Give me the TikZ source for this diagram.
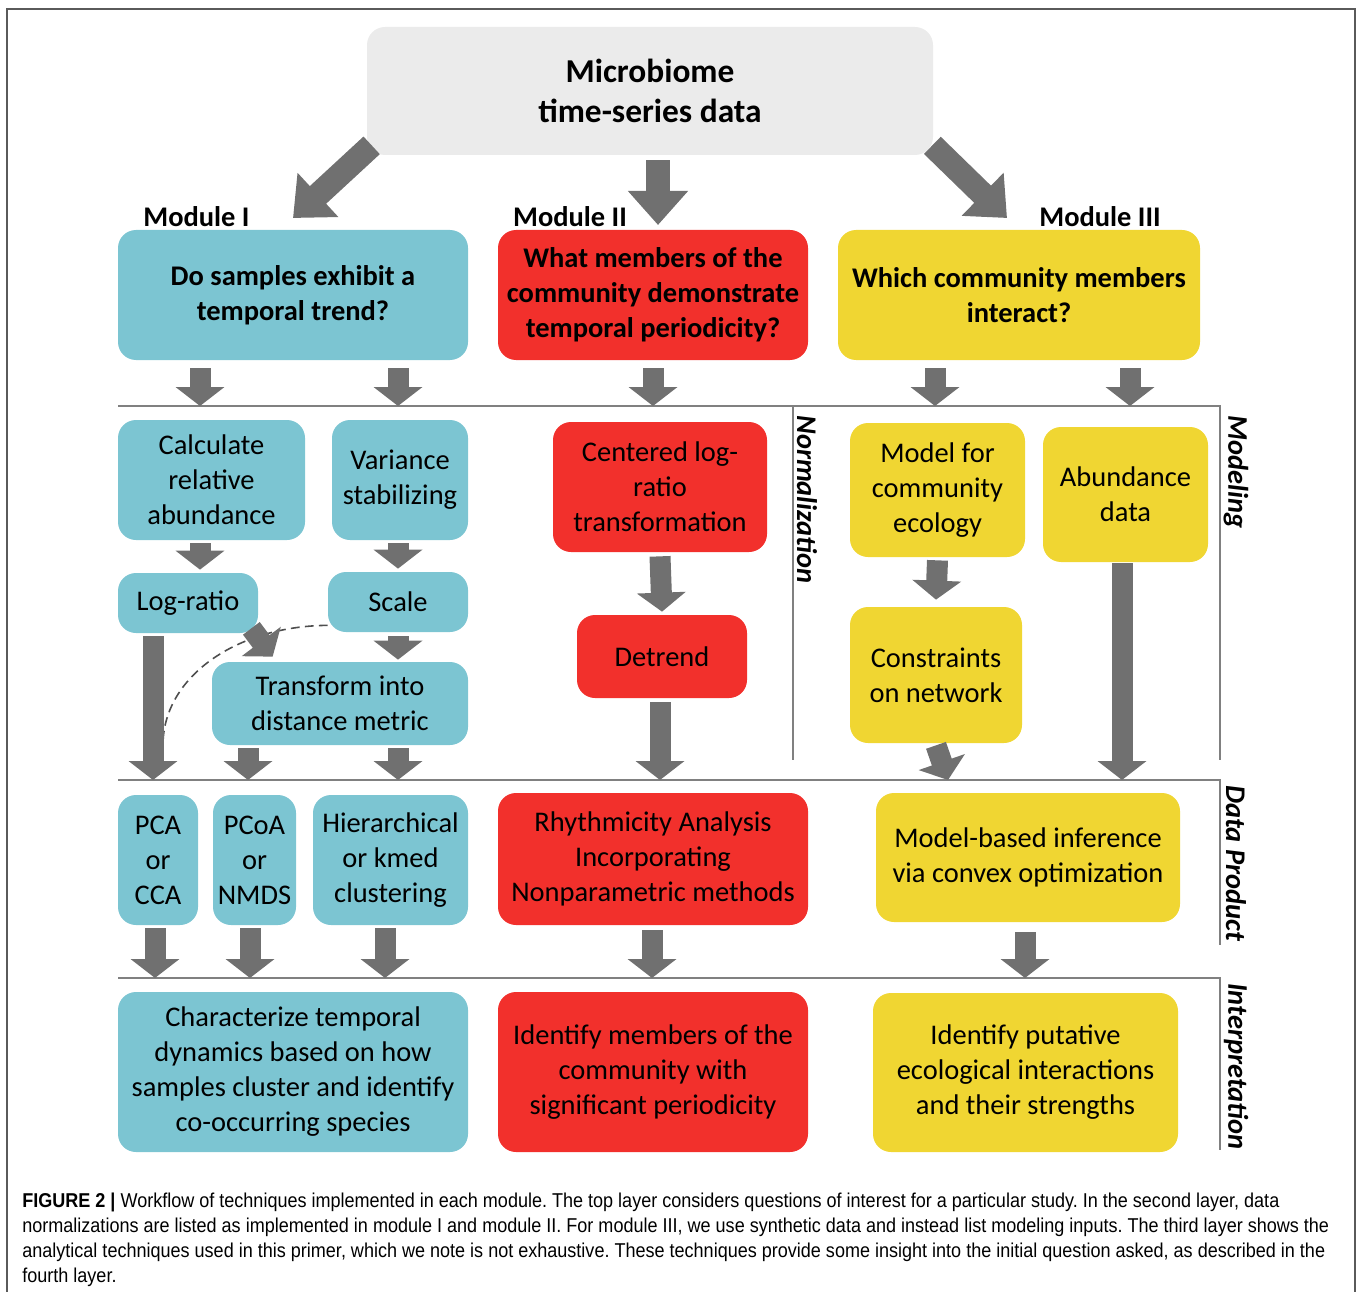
\documentclass[tikz,border=0pt]{standalone}
\usepackage{fontspec}
\setmainfont{Carlito}
\newfontfamily\capfont[FakeStretch=0.90]{Liberation Sans}
\usetikzlibrary{positioning}
\usetikzlibrary{calc}
\usetikzlibrary{arrows.meta}
\definecolor{cyanbox}{RGB}{124,197,210}
\definecolor{redbox}{RGB}{242,48,44}
\definecolor{yelbox}{RGB}{240,214,50}
\definecolor{topbox}{RGB}{235,235,235}
\definecolor{arrgray}{RGB}{112,112,112}
\definecolor{sepgray}{RGB}{128,128,128}
\definecolor{framegray}{RGB}{90,90,90}
\frenchspacing

\begin{document}
\begin{tikzpicture}[
        BOX/.style={rectangle, rounded corners=0.36cm, inner sep=0pt, align=center, font=\fontsize{16.2}{19.9}\selectfont},
        CYAN/.style={BOX, fill=cyanbox},
        RED/.style={BOX, fill=redbox},
        YEL/.style={BOX, fill=yelbox},
        ARR/.style={draw=arrgray, line width=0.42cm, -{Triangle[width=0.96cm,length=0.38cm]}},
        BIG/.style={draw=arrgray, line width=0.48cm, -{Triangle[width=1.16cm,length=0.68cm]}},
        SEP/.style={draw=sepgray, line width=1.4pt},
        LAB/.style={font=\fontsize{16.2}{19.9}\selectfont\bfseries\itshape, rotate=-90, anchor=west, inner sep=0pt},
        MOD/.style={font=\fontsize{16.2}{19.9}\selectfont\bfseries, inner sep=0pt},
        CAP/.style={anchor=north west, align=left, inner sep=0pt, font=\capfont\fontsize{11.4}{14.2}\selectfont},
        ]
            \useasboundingbox (0,0) rectangle (27.16,-25.84);
            \draw[framegray, line width=1.2pt] (0.14,-25.84) -- (0.14,-0.18) -- (27.10,-0.18) -- (27.10,-25.84);

            % top layer
            \node[BOX, fill=topbox, minimum width=11.32cm, minimum height=2.56cm, font=\fontsize{19}{22.7}\selectfont\bfseries] (T) at (13.00,-1.82) {Microbiome\\time-series data};
            \node[MOD] (ML1) at (3.93,-4.34) {Module I};
            \node[MOD] (ML2) at (11.40,-4.34) {Module II};
            \node[MOD] (ML3) at (22.00,-4.34) {Module III};

            \node[CYAN, minimum width=7.00cm, minimum height=2.60cm, font=\fontsize{16.2}{19.9}\selectfont\bfseries] (Q1) at (5.86,-5.90) {Do samples exhibit a\\temporal trend?};
            \node[RED, minimum width=6.20cm, minimum height=2.60cm, font=\fontsize{16.2}{19.9}\selectfont\bfseries] (Q2) at (13.06,-5.90) {What members of the\\community demonstrate\\temporal periodicity?};
            \node[YEL, minimum width=7.24cm, minimum height=2.60cm, font=\fontsize{16.2}{19.9}\selectfont\bfseries] (Q3) at (20.38,-5.90) {Which community members\\interact?};

            \coordinate (a1) at (5.86,-4.36);
            \coordinate (a2) at (13.16,-4.50);
            \coordinate (a3) at (20.14,-4.36);
            \draw[BIG] ([shift={(0.10,0.20)}]T.south west) -- (a1);
            \draw[BIG] ([shift={(0.16,-0.10)}]T.south) -- (a2);
            \draw[BIG] ([shift={(-0.02,0.20)}]T.south east) -- (a3);

            % separators
            \draw[SEP] (2.36,-8.12) -- (24.40,-8.12) -- (24.40,-15.20);
            \draw[SEP] (15.86,-8.12) -- (15.86,-15.20);
            \draw[SEP] (2.36,-15.60) -- (24.40,-15.60) -- (24.40,-18.90);
            \draw[SEP] (2.36,-19.56) -- (24.40,-19.56) -- (24.40,-23.00);
            \node[LAB] (L1) at (16.14,-8.30) {Normalization};
            \node[LAB] (L2) at (24.72,-8.30) {Modeling};
            \node[LAB] (L3) at (24.72,-15.70) {Data Product};
            \node[LAB] (L4) at (24.72,-19.66) {Interpretation};

            \coordinate (s1a) at (4.00,-8.12);
            \coordinate (s1b) at (7.96,-8.12);
            \coordinate (s1c) at (13.06,-8.12);
            \coordinate (s1d) at (18.70,-8.12);
            \coordinate (s1e) at (22.60,-8.12);
            \draw[ARR] ([yshift=-0.16cm]Q1.south -| s1a) -- (s1a);
            \draw[ARR] ([yshift=-0.16cm]Q1.south -| s1b) -- (s1b);
            \draw[ARR] ([yshift=-0.16cm]Q2.south -| s1c) -- (s1c);
            \draw[ARR] ([yshift=-0.16cm]Q3.south -| s1d) -- (s1d);
            \draw[ARR] ([yshift=-0.16cm]Q3.south -| s1e) -- (s1e);

            % second layer
            \node[CYAN, minimum width=3.74cm, minimum height=2.40cm] (N1) at (4.23,-9.60) {Calculate\\relative\\abundance};
            \node[CYAN, minimum width=2.72cm, minimum height=2.40cm] (N2) at (8.00,-9.60) {Variance\\stabilizing};
            \node[CYAN, minimum width=2.80cm, minimum height=1.20cm] (N3) at (3.76,-12.06) {Log-ratio};
            \node[CYAN, minimum width=2.80cm, minimum height=1.20cm] (N4) at (7.96,-12.04) {Scale};
            \node[CYAN, minimum width=5.12cm, minimum height=1.66cm] (N5) at (6.80,-14.07) {Transform into\\distance metric};
            \node[RED, minimum width=4.28cm, minimum height=2.60cm] (N6) at (13.20,-9.74) {Centered log-\\ratio\\transformation};
            \node[RED, minimum width=3.40cm, minimum height=1.66cm] (N7) at (13.24,-13.13) {Detrend};
            \node[YEL, minimum width=3.50cm, minimum height=2.68cm] (N8) at (18.75,-9.80) {Model for\\community\\ecology};
            \node[YEL, minimum width=3.30cm, minimum height=2.70cm] (N9) at (22.51,-9.89) {Abundance\\data};
            \node[YEL, minimum width=3.44cm, minimum height=2.72cm] (N10) at (18.72,-13.50) {Constraints\\on network};

            \coordinate (s2a) at (3.06,-15.60);
            \coordinate (s2b) at (4.96,-15.60);
            \coordinate (s2c) at (7.96,-15.60);
            \coordinate (s2d) at (13.20,-15.60);
            \coordinate (s2e) at (18.96,-15.60);
            \coordinate (s2f) at (22.44,-15.60);
            \coordinate (dc) at (3.26,-14.90);
            \draw[arrgray!70!black, line width=0.9pt, dash pattern=on 5pt off 3pt] ([yshift=0.14cm]N4.south west) .. controls (4.73,-12.52) and (3.26,-13.54) .. (dc);

            \draw[ARR] ([yshift=-0.06cm]N1.south -| s1a) -- ([yshift=0.06cm]N3.north -| s1a);
            \draw[ARR] ([yshift=-0.06cm]N2.south -| s1b) -- ([yshift=0.06cm]N4.north -| s1b);
            \draw[ARR] ([yshift=-0.08cm]N4.south -| s1b) -- ([yshift=0.04cm]N5.north -| s1b);
            \draw[ARR] ([shift={(-0.14,0.10)}]N3.south east) -- ([shift={(1.22,0.10)}]N5.north west);
            \draw[ARR] ([yshift=-0.06cm]N3.south -| s2a) -- (s2a);
            \draw[ARR] ([yshift=-0.06cm]N5.south -| s2b) -- (s2b);
            \draw[ARR] ([yshift=-0.06cm]N5.south -| s2c) -- (s2c);
            \draw[ARR] ([yshift=-0.08cm]N6.south) -- ([yshift=0.06cm]N7.north);
            \draw[ARR] ([yshift=-0.08cm]N7.south -| s2d) -- (s2d);
            \draw[ARR] ([yshift=-0.06cm]N8.south) -- ([yshift=0.14cm]N10.north);
            \draw[ARR] ([yshift=-0.04cm]N10.south) -- (s2e);
            \draw[ARR] ([yshift=-0.02cm]N9.south -| s2f) -- (s2f);

            % third layer
            \node[CYAN, minimum width=1.60cm, minimum height=2.60cm] (D1) at (3.16,-17.20) {PCA\\or\\CCA};
            \node[CYAN, minimum width=1.66cm, minimum height=2.60cm] (D2) at (5.09,-17.20) {PCoA\\or\\NMDS};
            \node[CYAN, minimum width=3.10cm, minimum height=2.60cm] (D3) at (7.81,-17.20) {Hierarchical\\or kmed\\clustering};
            \node[RED, minimum width=6.20cm, minimum height=2.64cm] (D4) at (13.06,-17.18) {Rhythmicity Analysis\\Incorporating\\Nonparametric methods};
            \node[YEL, minimum width=6.08cm, minimum height=2.58cm] (D5) at (20.56,-17.15) {Model-based inference\\via convex optimization};

            \coordinate (s3a) at (3.10,-19.56);
            \coordinate (s3b) at (5.00,-19.56);
            \coordinate (s3c) at (7.70,-19.56);
            \coordinate (s3d) at (13.04,-19.56);
            \coordinate (s3e) at (20.50,-19.56);
            \draw[ARR] ([yshift=-0.06cm]D1.south -| s3a) -- (s3a);
            \draw[ARR] ([yshift=-0.06cm]D2.south -| s3b) -- (s3b);
            \draw[ARR] ([yshift=-0.06cm]D3.south -| s3c) -- (s3c);
            \draw[ARR] ([yshift=-0.10cm]D4.south -| s3d) -- (s3d);
            \draw[ARR] ([yshift=-0.20cm]D5.south -| s3e) -- (s3e);

            % fourth layer
            \node[CYAN, minimum width=7.00cm, minimum height=3.20cm] (I1) at (5.86,-21.44) {Characterize temporal\\dynamics based on how\\samples cluster and identify\\co-occurring species};
            \node[RED, minimum width=6.20cm, minimum height=3.20cm] (I2) at (13.06,-21.44) {Identify members of the\\community with\\significant periodicity};
            \node[YEL, minimum width=6.10cm, minimum height=3.18cm] (I3) at (20.51,-21.45) {Identify putative\\ecological interactions\\and their strengths};

            \node[CAP] (C) at (0.44,-23.86) {\textbf{FIGURE 2 |} Workflow of techniques implemented in each module. The top layer considers questions of interest for a particular study. In the second layer, data\\
normalizations are listed as implemented in module I and module II. For module III, we use synthetic data and instead list modeling inputs. The third layer shows the\\
analytical techniques used in this primer, which we note is not exhaustive. These techniques provide some insight into the initial question asked, as described in the\\
fourth layer.};
        \end{tikzpicture}
\end{document}
